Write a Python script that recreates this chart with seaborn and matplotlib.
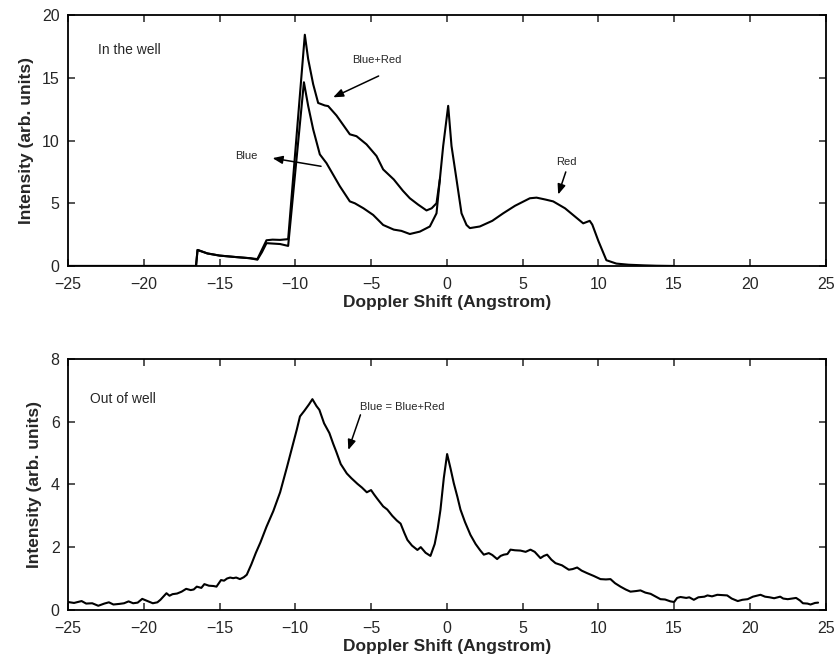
import numpy as np
import pandas as pd
import matplotlib
matplotlib.use("Agg")
import matplotlib.pyplot as plt
import seaborn as sns

sns.set_theme(style="ticks")
plt.rcParams["font.family"] = ["Liberation Sans", "DejaVu Sans"]

# ─── data: "In the well" (top panel) ───
well_sum_x = [-25, -16.55, -16.45, -15.8, -15.0, -14.0, -13.0, -12.5, -12.2, -11.9, -11.5,
              -11.0, -10.47, -9.37, -9.15, -8.82, -8.49, -8.05, -7.83, -7.28, -6.4, -5.96,
              -5.3, -4.64, -4.2, -3.5, -2.9, -2.44, -1.9, -1.34, -1.0, -0.68, -0.46, -0.24,
              0.09, 0.31, 0.64, 0.97, 1.3, 1.52, 2.18, 3.0, 3.72, 4.5, 5.48, 5.92, 6.5, 7.02,
              7.8, 8.5, 9.0, 9.43, 9.6, 10.0, 10.53, 11.19, 12.0, 13.0, 13.83, 15.0]
well_sum_y = [0, 0, 1.28, 1.0, 0.83, 0.72, 0.62, 0.55, 1.3, 2.05, 2.1,
              2.08, 2.14, 18.44, 16.5, 14.5, 13.0, 12.8, 12.75, 12.0, 10.5, 10.35,
              9.7, 8.77, 7.7, 6.9, 6.0, 5.4, 4.9, 4.43, 4.6, 5.0, 6.9, 9.57,
              12.77, 9.57, 6.9, 4.2, 3.27, 3.02, 3.15, 3.6, 4.2, 4.8, 5.4, 5.45, 5.3, 5.15,
              4.6, 3.9, 3.4, 3.6, 3.3, 2.0, 0.46, 0.19, 0.1, 0.05, 0.02, 0]

well_blue_x = [-25, -16.55, -16.45, -15.8, -15.0, -14.0, -13.0, -12.5, -12.2, -11.9, -11.0,
               -10.47, -9.43, -9.15, -8.82, -8.38, -7.94, -7.06, -6.4, -6.07, -5.5, -4.86,
               -4.2, -3.5, -3.0, -2.44, -1.78, -1.12, -0.68, -0.46]
well_blue_y = [0, 0, 1.28, 1.0, 0.83, 0.72, 0.62, 0.5, 1.1, 1.82, 1.75,
               1.6, 14.65, 12.77, 10.9, 8.9, 8.2, 6.36, 5.15, 5.0, 4.6, 4.07,
               3.27, 2.9, 2.8, 2.55, 2.74, 3.15, 4.2, 6.9]

# ─── data: "Out of well" (bottom panel) ───
out_x = [-25.0, -24.6, -24.1, -23.8, -23.4, -23.0, -22.6, -22.3, -22.0, -21.6, -21.3, -21.0,
         -20.7, -20.4, -20.1, -19.8, -19.4, -19.1, -18.9, -18.5, -18.3, -18.1, -17.8, -17.5,
         -17.2, -16.9, -16.7, -16.5, -16.2, -16.0, -15.7, -15.4, -15.2, -14.9, -14.7, -14.5,
         -14.3, -14.1, -13.9, -13.65, -13.4, -13.2, -12.9, -12.6, -12.3, -11.9, -11.45, -11.0,
         -10.55, -10.2, -9.9, -9.69, -9.4, -9.1, -8.87, -8.6, -8.41, -8.1, -7.75, -7.5,
         -7.3, -7.0, -6.6, -6.3, -5.9, -5.6, -5.28, -5.0, -4.8, -4.6, -4.2, -3.93,
         -3.6, -3.3, -3.05, -2.8, -2.6, -2.3, -1.94, -1.72, -1.4, -1.08, -0.8, -0.6,
         -0.42, -0.2, 0.02, 0.25, 0.46, 0.7, 0.9, 1.2, 1.56, 1.9, 2.2, 2.44,
         2.77, 3.0, 3.32, 3.55, 3.76, 4.0, 4.2, 4.5, 4.86, 5.2, 5.52, 5.8,
         6.18, 6.4, 6.62, 6.9, 7.17, 7.6, 8.05, 8.3, 8.6, 8.9, 9.26, 9.7,
         10.14, 10.5, 10.8, 11.1, 11.46, 11.8, 12.12, 12.5, 12.78, 13.1, 13.45, 13.8,
         14.1, 14.4, 14.76, 15.0, 15.2, 15.42, 15.8, 16.0, 16.3, 16.6, 17.0, 17.2,
         17.5, 17.85, 18.2, 18.5, 18.8, 19.2, 19.5, 19.85, 20.2, 20.7, 21.0, 21.3,
         21.6, 22.0, 22.2, 22.5, 22.8, 23.05, 23.3, 23.5, 23.8, 24.0, 24.3, 24.5]
out_y = [0.25, 0.22, 0.28, 0.20, 0.21, 0.13, 0.20, 0.24, 0.17, 0.19, 0.21, 0.27,
         0.21, 0.23, 0.35, 0.29, 0.21, 0.24, 0.32, 0.53, 0.45, 0.50, 0.52, 0.58,
         0.67, 0.63, 0.65, 0.74, 0.70, 0.82, 0.77, 0.76, 0.74, 0.95, 0.93, 1.00,
         1.03, 1.01, 1.03, 0.98, 1.04, 1.12, 1.45, 1.82, 2.15, 2.65, 3.15, 3.75,
         4.55, 5.2, 5.75, 6.17, 6.35, 6.55, 6.72, 6.5, 6.38, 5.95, 5.64, 5.3,
         5.05, 4.65, 4.35, 4.2, 4.02, 3.9, 3.75, 3.82, 3.68, 3.55, 3.3, 3.2,
         3.0, 2.85, 2.75, 2.45, 2.23, 2.05, 1.91, 2.0, 1.82, 1.72, 2.1, 2.6,
         3.19, 4.2, 4.97, 4.5, 4.04, 3.6, 3.2, 2.8, 2.39, 2.1, 1.9, 1.76,
         1.81, 1.75, 1.62, 1.72, 1.76, 1.78, 1.92, 1.90, 1.89, 1.85, 1.92, 1.85,
         1.65, 1.72, 1.76, 1.6, 1.49, 1.42, 1.28, 1.3, 1.35, 1.25, 1.17, 1.08,
         0.98, 0.97, 0.98, 0.85, 0.74, 0.65, 0.58, 0.6, 0.62, 0.55, 0.51, 0.42,
         0.34, 0.33, 0.27, 0.25, 0.38, 0.41, 0.38, 0.40, 0.32, 0.40, 0.42, 0.46,
         0.43, 0.48, 0.47, 0.46, 0.36, 0.28, 0.32, 0.34, 0.42, 0.48, 0.42, 0.40,
         0.37, 0.42, 0.36, 0.34, 0.36, 0.38, 0.30, 0.21, 0.20, 0.17, 0.22, 0.23]

xticks = [-25, -20, -15, -10, -5, 0, 5, 10, 15, 20, 25]

fig = plt.figure(figsize=(8.34, 6.6), dpi=100)
ax1 = fig.add_axes([0.0815, 0.597, 0.9085, 0.38])
ax2 = fig.add_axes([0.0815, 0.076, 0.9085, 0.38])

line_kw = dict(color="black", linewidth=1.5, estimator=None, sort=False)
sns.lineplot(x=well_sum_x, y=well_sum_y, ax=ax1, **line_kw)
sns.lineplot(x=well_blue_x, y=well_blue_y, ax=ax1, **line_kw)
sns.lineplot(x=out_x, y=out_y, ax=ax2, **line_kw)

arrow = dict(arrowstyle="-|>,head_length=0.5,head_width=0.2", color="black", lw=1.1,
             shrinkA=0, shrinkB=0)

for ax, ymax, yticks in [(ax1, 20, [0, 5, 10, 15, 20]), (ax2, 8, [0, 2, 4, 6, 8])]:
    ax.set_xlim(-25, 25)
    ax.set_ylim(0, ymax)
    ax.set_xticks(xticks)
    ax.set_yticks(yticks)
    ax.tick_params(direction="in", length=5, width=1.1, top=True, right=True, labelsize=11.5)
    ax.tick_params(axis="x", pad=8)
    ax.tick_params(axis="y", pad=6)
    for s in ax.spines.values():
        s.set_linewidth(1.3)
        s.set_color("black")
    ax.set_xlabel("Doppler Shift (Angstrom)", fontsize=12.5, fontweight="bold", labelpad=2)
    ax.set_ylabel("Intensity (arb. units)", fontsize=12.5, fontweight="bold", labelpad=6)

# annotations, top panel
ax1.text(-23.0, 17.2, "In the well", fontsize=10, va="center", ha="left")
ax1.text(-4.6, 16.4, "Blue+Red", fontsize=8, ha="center", va="center")
ax1.annotate("", xy=(-7.5, 13.45), xytext=(-4.5, 15.15), arrowprops=arrow)
ax1.text(-13.2, 8.8, "Blue", fontsize=8, ha="center", va="center")
ax1.annotate("", xy=(-11.5, 8.6), xytext=(-8.3, 7.95), arrowprops=arrow)
ax1.text(7.9, 8.3, "Red", fontsize=8, ha="center", va="center")
ax1.annotate("", xy=(7.35, 5.7), xytext=(7.85, 7.5), arrowprops=arrow)

# annotations, bottom panel
ax2.text(-23.55, 6.73, "Out of well", fontsize=10, va="center", ha="left")
ax2.text(-2.95, 6.48, "Blue = Blue+Red", fontsize=8, ha="center", va="center")
ax2.annotate("", xy=(-6.5, 5.1), xytext=(-5.7, 6.22), arrowprops=arrow)

fig.savefig("out.png", dpi=100)
